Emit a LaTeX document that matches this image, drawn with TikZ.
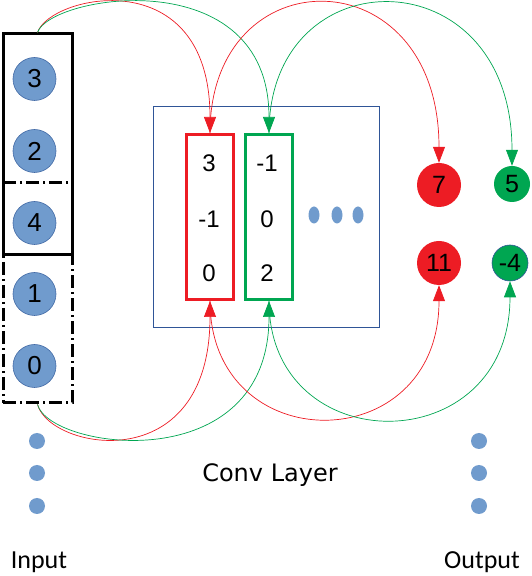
\documentclass[tikz,border=0pt]{standalone}
\usepackage{fontspec}
\setmainfont{Liberation Sans}
\newfontfamily\capfont{Carlito}
\newfontfamily\convfont{DejaVu Sans}
\usetikzlibrary{arrows.meta, shapes.geometric}

\definecolor{inblue}{RGB}{112,155,205}
\definecolor{inedge}{RGB}{65,105,165}
\definecolor{kred}{RGB}{237,28,36}
\definecolor{kgreen}{RGB}{0,166,81}
\definecolor{boxblue}{RGB}{47,85,151}

\begin{document}
\begin{tikzpicture}[x=1pt, y=1pt, >={Triangle[length=16pt,width=12pt]},
    inval/.style={circle, fill=inblue, draw=inedge, line width=0.6pt,
        minimum size=43pt, inner sep=0pt, font=\fontsize{26}{26}\selectfont},
    moredot/.style={circle, fill=inblue, minimum size=16pt, inner sep=0pt},
    kval/.style={font=\fontsize{24}{24}\selectfont},
    kbox/.style={rectangle, line width=3pt, minimum width=47pt, minimum height=165pt},
    outval/.style={circle, inner sep=0pt, font=\fontsize{25}{25}\selectfont},
    link/.style={line width=0.7pt}]

    % Khung ảnh
    \useasboundingbox (0,0) rectangle (532,576);

    % Input
    \node[inval] (in3) at (34.5,497) {3};
    \node[inval] (in2) at (34.5,425) {2};
    \node[inval] (in4) at (34.5,353) {4};
    \node[inval] (in1) at (34.5,282) {1};
    \node[inval] (in0) at (34.5,210) {0};
    \node[draw, dash pattern=on 13pt off 4pt on 2pt off 4pt, line width=3pt,
        minimum width=69pt, minimum height=220pt] (dashbox) at (37.5,283) {};
    \node[draw, line width=3pt, minimum width=69pt, minimum height=221pt]
        (topbox) at (37.5,431.5) {};

    \foreach \i/\y in {1/135, 2/103, 3/70} {
        \node[moredot] (ind\i) at (37,\y) {};
        \node[moredot] (outd\i) at (479,\y) {};
    }
    \node[font=\capfont\fontsize{26}{26}\selectfont] (inlabel) at (39,14) {Input};
    \node[font=\capfont\fontsize{26}{26}\selectfont] (outlabel) at (482,14) {Output};

    % Conv Layer
    \node[draw=boxblue, line width=0.8pt, minimum width=226pt, minimum height=221pt]
        (convbox) at (266,359.5) {};
    \node[kbox, draw=kred] (redk) at (210,359) {};
    \node[kbox, draw=kgreen] (greenk) at (269,359) {};
    \node[kval] (r1) at (209,413) {3};
    \node[kval] (r2) at (209,357) {-1};
    \node[kval] (r3) at (209,303) {0};
    \node[kval] (g1) at (267,413) {-1};
    \node[kval] (g2) at (267,357) {0};
    \node[kval] (g3) at (267,303) {2};
    \foreach \x [count=\i] in {314, 337, 358}
        \node[ellipse, fill=inblue, minimum width=11pt, minimum height=17pt,
            inner sep=0pt] (kd\i) at (\x,361) {};
    \node[font=\convfont\fontsize{24}{24}\selectfont] (convlabel) at (270,101) {Conv Layer};

    % Output
    \node[outval, fill=kred, minimum size=44pt] (o7) at (439,391) {7};
    \node[outval, fill=kgreen, minimum size=36pt] (o5) at (512,392) {5};
    \node[outval, fill=kred, minimum size=44pt] (o11) at (439,313) {11};
    \node[outval, fill=kgreen, draw=boxblue, line width=0.6pt, minimum size=36pt]
        (om4) at (510,313) {-4};

    % Cung phía trên
    \draw[link, kred, ->] (topbox.north) .. controls (50,581) and (210,616) .. (redk.north);
    \draw[link, kgreen, ->] (topbox.north) .. controls (50,581) and (269,616) .. (greenk.north);
    \draw[link, kred, ->] (redk.north) .. controls (210,621) and (439,621) .. (o7.north);
    \draw[link, kgreen, ->] (greenk.north) .. controls (269,621) and (512,621) .. (o5.north);

    % Cung phía dưới
    \draw[link, kred, ->] (dashbox.south) .. controls (50,126) and (210,96) .. (redk.south);
    \draw[link, kgreen, ->] (dashbox.south) .. controls (50,126) and (269,96) .. (greenk.south);
    \draw[link, kred, ->] (redk.south) .. controls (210,116) and (439,116) .. (o11.south);
    \draw[link, kgreen, ->] (greenk.south) .. controls (269,114) and (510,114) .. (om4.south);

\end{tikzpicture}
\end{document}
